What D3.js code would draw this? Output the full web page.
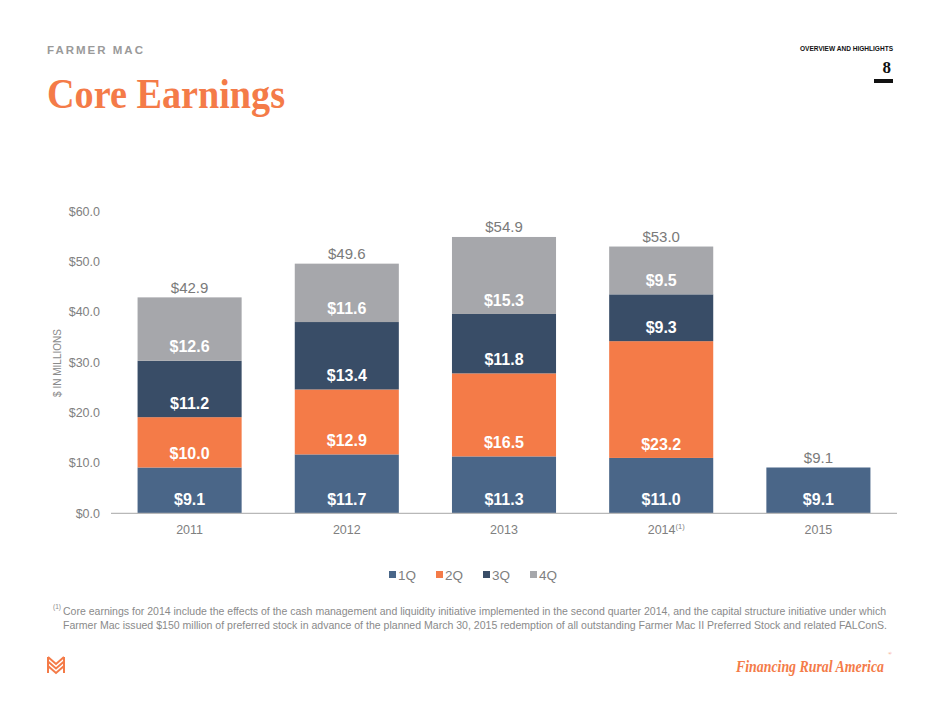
<!DOCTYPE html>
<html><head><meta charset="utf-8">
<script src="https://cdn.jsdelivr.net/npm/d3@7"></script>
<style>body{margin:0;background:#fff}svg{display:block}</style>
</head><body><div id="chart"></div>
<script>
const years = ["2011","2012","2013","2014","2015"];
const series = ["1Q","2Q","3Q","4Q"];
const q1 = [9.1, 11.7, 11.3, 11.0, 9.1];
const q2 = [10.0, 12.9, 16.5, 23.2, 0];
const q3 = [11.2, 13.4, 11.8, 9.3, 0];
const q4 = [12.6, 11.6, 15.3, 9.5, 0];
const totals = [42.9, 49.6, 54.9, 53.0, 9.1];
const yTicks = [0, 10, 20, 30, 40, 50, 60];
const colors = ["#4a6688", "#f47b48", "#394d67", "#a6a7ab"];

const W = 940, H = 705;
const svg = d3.select("#chart").append("svg").attr("width", W).attr("height", H);

// header
svg.append("text").attr("x", 47).attr("y", 54).text("FARMER MAC")
  .attr("font-family", "Liberation Sans, Arial, sans-serif").attr("font-weight", "bold")
  .attr("font-size", 11.5).attr("letter-spacing", 2).attr("fill", "#9a9a9a");
svg.append("text").attr("x", 47).attr("y", 108).text("Core Earnings")
  .attr("font-family", "Liberation Serif, Times New Roman, serif").attr("font-weight", "bold")
  .attr("font-size", 42).attr("fill", "#f47b48")
  .attr("textLength", 238).attr("lengthAdjust", "spacingAndGlyphs");
svg.append("text").attr("x", 893).attr("y", 51).attr("text-anchor", "end").text("OVERVIEW AND HIGHLIGHTS")
  .attr("font-family", "Liberation Sans, Arial, sans-serif").attr("font-weight", "bold")
  .attr("font-size", 7).attr("fill", "#111")
  .attr("textLength", 93).attr("lengthAdjust", "spacingAndGlyphs");
svg.append("text").attr("x", 891).attr("y", 73).attr("text-anchor", "end").text("8")
  .attr("font-family", "Liberation Serif, Times New Roman, serif").attr("font-weight", "bold")
  .attr("font-size", 17).attr("fill", "#111");
svg.append("rect").attr("x", 874).attr("y", 79).attr("width", 19).attr("height", 4).attr("fill", "#111");

// chart
const x = d3.scaleBand().domain(years).range([111, 897]).paddingInner(0.338).paddingOuter(0.169);
const y = d3.scaleLinear().domain([0, 60]).range([513.3, 211.3]);

const stackData = years.map((yr, i) => ({year: yr, "1Q": q1[i], "2Q": q2[i], "3Q": q3[i], "4Q": q4[i]}));
const stacked = d3.stack().keys(series)(stackData);

const g = svg.append("g");
stacked.forEach((s, si) => {
  g.selectAll(null).data(s.filter(d => d[1] - d[0] > 0)).enter().append("rect")
    .attr("x", d => x(d.data.year)).attr("width", x.bandwidth())
    .attr("y", d => y(d[1])).attr("height", d => y(d[0]) - y(d[1]))
    .attr("fill", colors[si]);
  g.selectAll(null).data(s.filter(d => d[1] - d[0] > 0)).enter().append("text")
    .attr("x", d => x(d.data.year) + x.bandwidth() / 2)
    .attr("y", d => y(d[0]) - 14).attr("dy", "0.35em")
    .attr("text-anchor", "middle")
    .attr("font-family", "Liberation Sans, Arial, sans-serif").attr("font-weight", "bold")
    .attr("font-size", 16).attr("fill", "#fff")
    .text(d => "$" + (d[1] - d[0]).toFixed(1));
});

// totals
g.selectAll(null).data(years).enter().append("text")
  .attr("x", d => x(d) + x.bandwidth() / 2)
  .attr("y", (d, i) => y(totals[i]) - 10).attr("dy", "0.35em")
  .attr("text-anchor", "middle")
  .attr("font-family", "Liberation Sans, Arial, sans-serif")
  .attr("font-size", 15).attr("fill", "#7a7a7a")
  .text((d, i) => "$" + totals[i].toFixed(1));

// axis line
svg.append("line").attr("x1", 111).attr("x2", 897).attr("y1", y(0)).attr("y2", y(0))
  .attr("stroke", "#b8b8b8").attr("stroke-width", 1.2);

// y tick labels
const yAxis = d3.axisLeft(y).tickValues(yTicks).tickSize(0).tickPadding(0)
  .tickFormat(d => "$" + d3.format(".1f")(d));
const ya = svg.append("g").attr("transform", "translate(100,0)").call(yAxis);
ya.select(".domain").remove();
ya.selectAll("text").attr("font-family", "Liberation Sans, Arial, sans-serif")
  .attr("font-size", 12.5).attr("fill", "#808080");

// x labels
const xAxis = d3.axisBottom(x).tickSize(0).tickPadding(0);
const xa = svg.append("g").attr("transform", "translate(0,525)").call(xAxis);
xa.select(".domain").remove();
xa.selectAll("text").attr("font-family", "Liberation Sans, Arial, sans-serif")
  .attr("font-size", 12.5).attr("fill", "#808080")
  .each(function(d) {
    if (d === "2014") {
      d3.select(this).append("tspan").attr("font-size", 7.5).attr("dy", "-0.6em").text("(1)");
      d3.select(this).attr("dx", "5");
    }
  });

// y axis title
svg.append("text").attr("transform", "translate(61,363) rotate(-90)")
  .attr("text-anchor", "middle").text("$ IN MILLIONS")
  .attr("font-family", "Liberation Sans, Arial, sans-serif")
  .attr("font-size", 10).attr("fill", "#8a8a8a");

// legend
const lg = svg.append("g");
series.forEach((s, i) => {
  const lx = 389 + i * 47;
  lg.append("rect").attr("x", lx).attr("y", 571).attr("width", 7).attr("height", 7).attr("fill", colors[i]);
  lg.append("text").attr("x", lx + 9).attr("y", 580).text(s)
    .attr("font-family", "Liberation Sans, Arial, sans-serif")
    .attr("font-size", 13.5).attr("fill", "#808080");
});

// footnote
const fn = svg.append("g").attr("font-family", "Liberation Sans Narrow, Liberation Sans, Arial, sans-serif").attr("fill", "#8a8a8a");
fn.append("text").attr("x", 53).attr("y", 609).attr("font-size", 6.5).text("(1)");
fn.append("text").attr("x", 63).attr("y", 615).attr("font-size", 11)
  .attr("textLength", 823).attr("lengthAdjust", "spacingAndGlyphs")
  .text("Core earnings for 2014 include the effects of the cash management and liquidity initiative implemented in the second quarter 2014, and the capital structure initiative under which");
fn.append("text").attr("x", 63).attr("y", 629).attr("font-size", 11)
  .attr("textLength", 824).attr("lengthAdjust", "spacingAndGlyphs")
  .text("Farmer Mac issued $150 million of preferred stock in advance of the planned March 30, 2015 redemption of all outstanding Farmer Mac II Preferred Stock and related FALConS.");

// logo
const logo = svg.append("g").attr("stroke", "#f47b48").attr("stroke-width", 2).attr("fill", "none");
[0, 4.5, 9].forEach(dy => {
  logo.append("polyline").attr("points", `${48},${657 + dy} ${56},${664 + dy} ${64},${657 + dy}`);
});
logo.append("line").attr("x1", 48).attr("x2", 48).attr("y1", 657).attr("y2", 673);
logo.append("line").attr("x1", 64).attr("x2", 64).attr("y1", 657).attr("y2", 673);

// tagline
svg.append("text").attr("x", 736).attr("y", 672)
  .attr("font-family", "Liberation Serif, Times New Roman, serif").attr("fill", "#f47b48")
  .attr("font-style", "italic").attr("font-weight", "bold").attr("font-size", 17)
  .attr("textLength", 148).attr("lengthAdjust", "spacingAndGlyphs")
  .text("Financing Rural America");
svg.append("text").attr("x", 888).attr("y", 655)
  .attr("font-family", "Liberation Serif, serif").attr("font-size", 5).attr("fill", "#f47b48").text("®");
</script></body></html>
